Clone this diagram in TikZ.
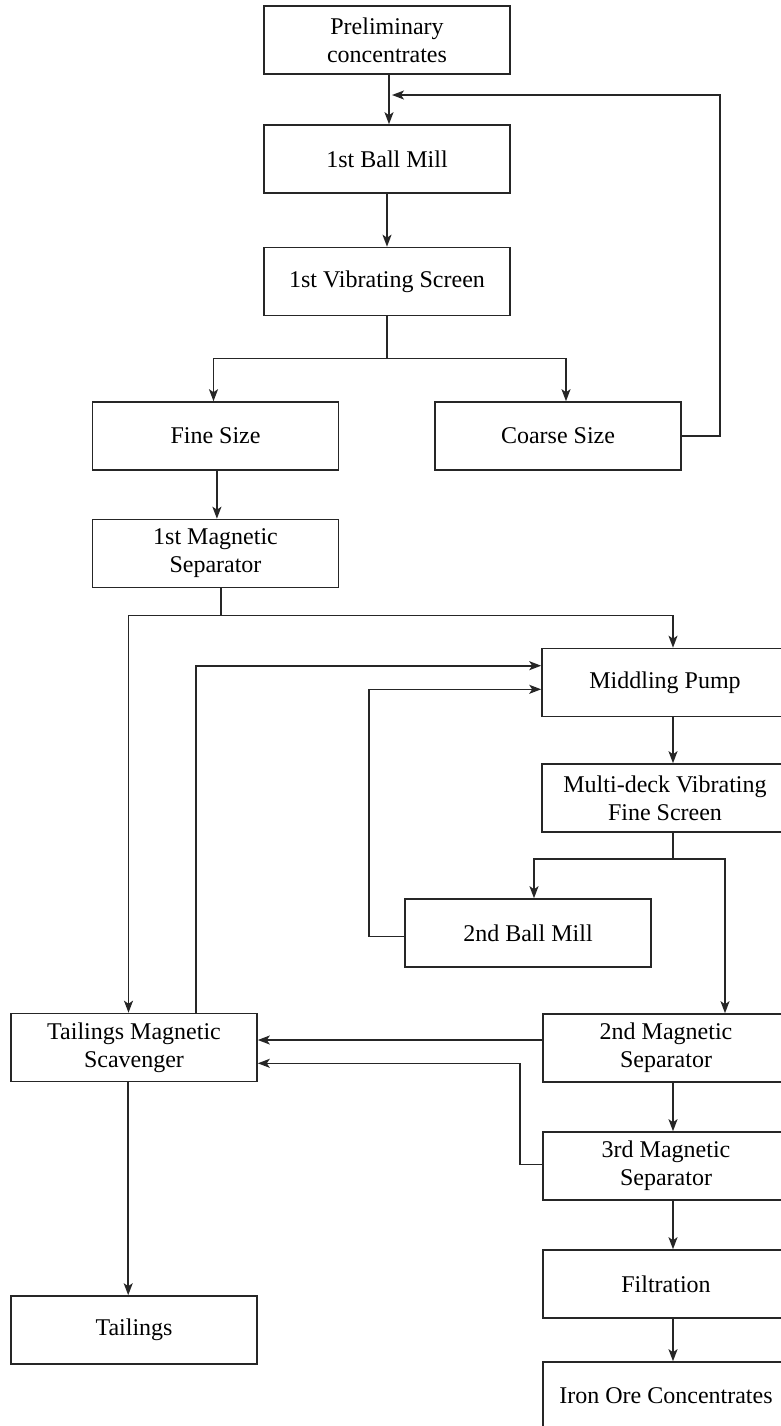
\documentclass[tikz,border=0pt]{standalone}
\usepackage{fontspec}
\setmainfont{Liberation Serif}
\usetikzlibrary{arrows.meta}

\begin{document}
\begin{tikzpicture}[x=0.5pt, y=-0.5pt,
  box/.style={draw=black!85, line width=0.8pt, minimum width=123pt, minimum height=34pt,
    inner sep=0pt, align=center, font=\fontsize{12}{14}\selectfont},
  flow/.style={draw=black!85, line width=0.8pt},
  arr/.style={flow, -{Stealth[length=6pt,width=4.5pt,inset=1.5pt]}}]
\useasboundingbox (0,0) rectangle (781,1426);
\clip (0,0) rectangle (781,1426);

% first grinding stage
\node[box] (pre) at (387,40) {Preliminary\\concentrates};
\node[box] (bm1) at (387,159) {1st Ball Mill};
\node[box] (vs1) at (387,281.5) {1st Vibrating Screen};
\node[box] (fine) at (215.5,436) {Fine Size};
\node[box] (coarse) at (558,436) {Coarse Size};
\node[box] (ms1) at (215.5,553.5) {1st Magnetic\\Separator};

% second grinding stage
\node[box] (mp) at (665,682.5) {Middling Pump};
\node[box] (mdvs) at (665,798) {Multi-deck Vibrating\\Fine Screen};
\node[box] (bm2) at (528,933) {2nd Ball Mill};

% cleaning and tailings
\node[box] (tms) at (134,1047.5) {Tailings Magnetic\\Scavenger};
\node[box] (tail) at (134,1330) {Tailings};
\node[box] (ms2) at (666,1048) {2nd Magnetic\\Separator};
\node[box] (ms3) at (666,1166) {3rd Magnetic\\Separator};
\node[box] (filt) at (666,1284) {Filtration};
\node[box] (ioc) at (666,1396) {Iron Ore Concentrates};

% main line
\draw[arr] ([xshift=1pt]pre.south) -- ([xshift=1pt]bm1.north);
\draw[arr] (bm1) -- (vs1);
\draw[flow] (vs1.south) -- ++(0,42) coordinate (sp1);
\draw[arr] (sp1) -| ([xshift=-1pt]fine.north);
\draw[arr] (sp1) -| ([xshift=4pt]coarse.north);
\coordinate (fbin) at (392,95);
\draw[arr] (coarse.east) -- ++(38,0) |- (fbin);
\draw[arr] ([xshift=0.7pt]fine.south) -- ([xshift=0.7pt]ms1.north);
\draw[flow] ([xshift=2.7pt]ms1.south) -- ++(0,27) coordinate (sp2);
\draw[arr] (sp2) -| ([xshift=-2.75pt]tms.north);
\draw[arr] (sp2) -| ([xshift=4pt]mp.north);

% middlings loop
\draw[arr] ([xshift=31pt]tms.north) |- ([yshift=8.4pt]mp.west);
\draw[arr] ([yshift=-1.8pt]bm2.west) -- ++(-35,0) |- ([yshift=-3.4pt]mp.west);
\draw[arr] ([xshift=4pt]mp.south) -- ([xshift=4pt]mdvs.north);
\draw[flow] ([xshift=4pt]mdvs.south) -- ++(0,26) coordinate (sp3);
\draw[arr] (sp3) -| ([xshift=3pt]bm2.north);
\draw[arr] (sp3) -| ([xshift=29.5pt]ms2.north);

% concentrates and tailings
\draw[arr] ([yshift=4pt]ms2.west) -- ([yshift=3.75pt]tms.east);
\draw[arr] ([yshift=0.85pt]ms3.west) -- ++(-22,0) |- ([yshift=-7.9pt]tms.east);
\draw[arr] ([xshift=3.5pt]ms2.south) -- ([xshift=3.5pt]ms3.north);
\draw[arr] ([xshift=3.5pt]ms3.south) -- ([xshift=3.5pt]filt.north);
\draw[arr] ([xshift=3.5pt]filt.south) -- ([xshift=3.5pt]ioc.north);
\draw[arr] ([xshift=-2.9pt]tms.south) -- ([xshift=-2.9pt]tail.north);
\end{tikzpicture}
\end{document}
